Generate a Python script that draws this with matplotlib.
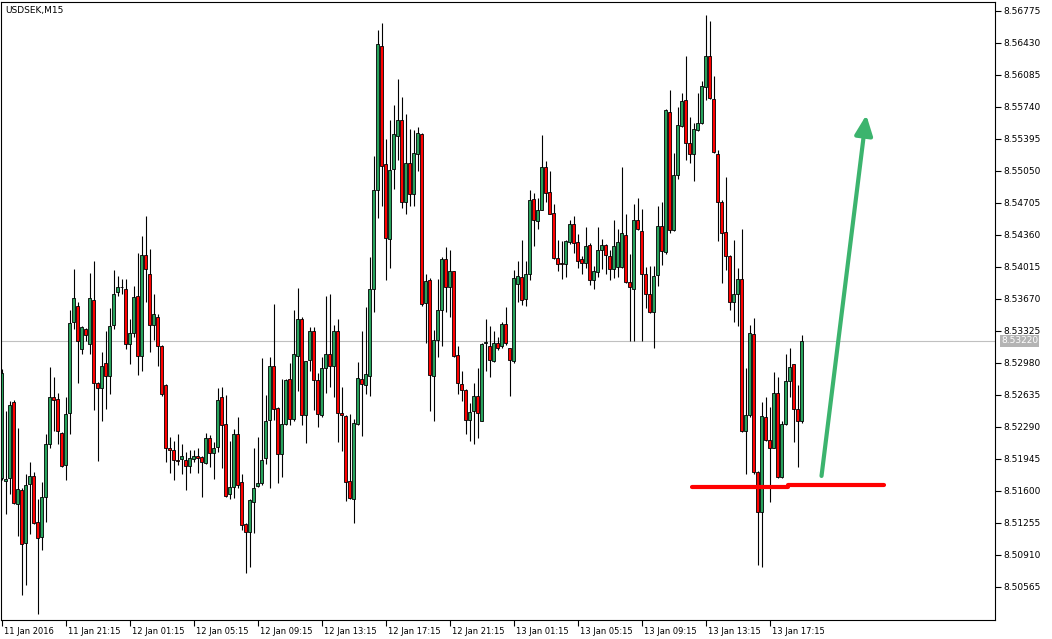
import matplotlib
matplotlib.use('Agg')
import matplotlib.pyplot as plt
import matplotlib.transforms as mtransforms
import numpy as np

# USDSEK M15 candles, 11 Jan 17:15 .. 13 Jan 19:15
opens = [8.51738, 8.51704, 8.51738, 8.52564, 8.51460, 8.51610, 8.51041, 8.51674, 8.51759, 8.51267,
         8.51109, 8.51537, 8.52110, 8.52615, 8.52594, 8.52230, 8.51875, 8.52444, 8.53419, 8.53590,
         8.53128, 8.53351, 8.53180, 8.53663, 8.52765, 8.52713, 8.52979, 8.52838, 8.53385, 8.53744,
         8.53804, 8.53779, 8.53180, 8.53300, 8.53706, 8.53051, 8.54142, 8.53941, 8.53385, 8.53479,
         8.53158, 8.52743, 8.52059, 8.52046, 8.51939, 8.51943, 8.51931, 8.51866, 8.51943, 8.51982,
         8.51965, 8.51901, 8.52174, 8.52008, 8.52072, 8.52615, 8.52324, 8.51567, 8.51640, 8.52217,
         8.51695, 8.51246, 8.51161, 8.51481, 8.51652, 8.51682, 8.51952, 8.52367, 8.52949, 8.52500,
         8.51995, 8.52324, 8.52808, 8.52380, 8.53056, 8.53449, 8.52423, 8.53009, 8.53321, 8.52799,
         8.52414, 8.52927, 8.53073, 8.52949, 8.53321, 8.52444, 8.52410, 8.51708, 8.51516, 8.52324,
         8.52808, 8.52743, 8.52842, 8.53783, 8.54840, 8.56401, 8.55126, 8.54313, 8.55075, 8.55430,
         8.55597, 8.54711, 8.55131, 8.54797, 8.55233, 8.55451, 8.53629, 8.53877, 8.52838, 8.53223,
         8.53556, 8.54100, 8.53804, 8.53971, 8.53064, 8.52756, 8.52692, 8.52367, 8.52457, 8.52624,
         8.52358, 8.53193, 8.53158, 8.53000, 8.53193, 8.53158, 8.53398, 8.53137, 8.53000, 8.53834,
         8.53907, 8.53672, 8.53941, 8.54745, 8.54510, 8.54634, 8.55088, 8.54827, 8.54596, 8.54112,
         8.54061, 8.54048, 8.54283, 8.54476, 8.54283, 8.54100, 8.54061, 8.54249, 8.53877, 8.53963,
         8.54198, 8.54249, 8.54134, 8.53993, 8.54018, 8.54018, 8.54360, 8.53856, 8.53779, 8.54519,
         8.54403, 8.53941, 8.53719, 8.53526, 8.53928, 8.54455, 8.54177, 8.55682, 8.54412, 8.55011,
         8.55533, 8.55811, 8.55353, 8.55233, 8.55490, 8.55567, 8.55952, 8.56286, 8.55824, 8.55233,
         8.54720, 8.54390, 8.54134, 8.53633, 8.53719, 8.53886, 8.52251, 8.52414, 8.53291, 8.51802,
         8.51374, 8.52393, 8.52153, 8.52067, 8.52658, 8.51751, 8.52324, 8.52786, 8.52966, 8.52487,
         8.52358]
highs = [8.52915, 8.52465, 8.52572, 8.52581, 8.52281, 8.51631, 8.51781, 8.51909, 8.51802, 8.51511,
         8.51695, 8.52209, 8.52936, 8.52829, 8.52658, 8.52239, 8.52615, 8.53556, 8.53993, 8.53642,
         8.53377, 8.53359, 8.53950, 8.54078, 8.52773, 8.53094, 8.53321, 8.53578, 8.53984, 8.53920,
         8.53890, 8.53886, 8.53449, 8.53813, 8.54164, 8.54348, 8.54562, 8.54211, 8.53727, 8.53513,
         8.53171, 8.52752, 8.52187, 8.52144, 8.52217, 8.52102, 8.52016, 8.52046, 8.52038, 8.52059,
         8.51973, 8.52221, 8.52200, 8.52123, 8.52709, 8.52722, 8.52636, 8.52136, 8.52273, 8.52401,
         8.51781, 8.51255, 8.51511, 8.52059, 8.52187, 8.53030, 8.52636, 8.53043, 8.53620, 8.52505,
         8.52808, 8.52808, 8.52979, 8.53556, 8.53791, 8.53471, 8.53005, 8.53364, 8.53364, 8.52872,
         8.53043, 8.53706, 8.53719, 8.53394, 8.53458, 8.52722, 8.52423, 8.52431, 8.52380, 8.52992,
         8.53321, 8.53586, 8.54121, 8.55212, 8.56572, 8.56649, 8.55396, 8.55597, 8.55759, 8.56037,
         8.55853, 8.55661, 8.55503, 8.55490, 8.55524, 8.55460, 8.53941, 8.53898, 8.53334, 8.53886,
         8.54121, 8.54232, 8.54198, 8.53975, 8.53158, 8.52893, 8.52701, 8.52551, 8.52765, 8.52923,
         8.53193, 8.53458, 8.53377, 8.53321, 8.53257, 8.53419, 8.53586, 8.53146, 8.53984, 8.54078,
         8.54305, 8.54078, 8.54840, 8.54818, 8.54754, 8.55439, 8.55160, 8.55054, 8.54698, 8.54305,
         8.54292, 8.54305, 8.54519, 8.54562, 8.54369, 8.54134, 8.54442, 8.54275, 8.54027, 8.54442,
         8.54313, 8.54262, 8.54198, 8.54519, 8.54420, 8.55096, 8.54591, 8.54155, 8.54690, 8.54754,
         8.54639, 8.54018, 8.54027, 8.54027, 8.54668, 8.54711, 8.55717, 8.55918, 8.55246, 8.55738,
         8.55896, 8.56286, 8.55631, 8.55567, 8.55888, 8.56016, 8.56730, 8.56671, 8.56072, 8.55276,
         8.54733, 8.54989, 8.54147, 8.54305, 8.54005, 8.54425, 8.52923, 8.53394, 8.53462, 8.51811,
         8.52564, 8.52615, 8.52508, 8.52880, 8.52829, 8.52350, 8.53073, 8.53137, 8.52974, 8.52743,
         8.53278]
lows = [8.51717, 8.51353, 8.51567, 8.51460, 8.51118, 8.50476, 8.50583, 8.51139, 8.51246, 8.50271,
        8.50968, 8.51267, 8.52059, 8.52251, 8.52102, 8.51854, 8.51717, 8.52209, 8.53342, 8.52765,
        8.53073, 8.53214, 8.53073, 8.52478, 8.51922, 8.52358, 8.52487, 8.52649, 8.53342, 8.53706,
        8.53727, 8.53128, 8.52966, 8.53257, 8.52850, 8.52893, 8.53633, 8.53094, 8.53223, 8.52949,
        8.52624, 8.51909, 8.51789, 8.51717, 8.51875, 8.51781, 8.51610, 8.51794, 8.51909, 8.51794,
        8.51537, 8.51888, 8.51854, 8.51725, 8.52016, 8.51845, 8.51537, 8.51511, 8.51524, 8.51631,
        8.51182, 8.50711, 8.50776, 8.51152, 8.51640, 8.51665, 8.51896, 8.51631, 8.52367, 8.51682,
        8.51751, 8.52316, 8.52316, 8.52358, 8.52679, 8.52316, 8.52115, 8.52893, 8.52478, 8.52286,
        8.52401, 8.52658, 8.52722, 8.52615, 8.52123, 8.52029, 8.51490, 8.51511, 8.51259, 8.52307,
        8.52196, 8.52645, 8.52624, 8.53526, 8.54540, 8.54677, 8.53877, 8.54005, 8.54861, 8.55169,
        8.54647, 8.54591, 8.54668, 8.54668, 8.55054, 8.53599, 8.53193, 8.52457, 8.52358, 8.53043,
        8.53158, 8.53535, 8.53471, 8.53043, 8.52645, 8.52572, 8.52209, 8.52136, 8.52110, 8.52174,
        8.52350, 8.52893, 8.52829, 8.52987, 8.53120, 8.53137, 8.53171, 8.52628, 8.52979, 8.53642,
        8.53608, 8.53599, 8.53877, 8.54241, 8.54425, 8.54626, 8.54711, 8.54583, 8.54104, 8.53971,
        8.53890, 8.53911, 8.54262, 8.54164, 8.54005, 8.53941, 8.54005, 8.53826, 8.53783, 8.53911,
        8.53993, 8.53941, 8.53877, 8.53898, 8.53911, 8.54005, 8.53847, 8.53214, 8.53214, 8.54412,
        8.53214, 8.53578, 8.53522, 8.53141, 8.53813, 8.54035, 8.54155, 8.54378, 8.54403, 8.54968,
        8.55524, 8.55173, 8.55131, 8.54947, 8.55481, 8.55558, 8.55811, 8.55824, 8.55246, 8.54292,
        8.53847, 8.53984, 8.53548, 8.53419, 8.53377, 8.52239, 8.51781, 8.52401, 8.51781, 8.50797,
        8.50784, 8.52144, 8.51481, 8.52059, 8.51738, 8.51738, 8.52307, 8.52615, 8.52123, 8.51854,
        8.52337]
closes = [8.52872, 8.51730, 8.52529, 8.51469, 8.51623, 8.51032, 8.51665, 8.51759, 8.51255, 8.51096,
          8.51537, 8.52102, 8.52615, 8.52585, 8.52251, 8.51866, 8.52435, 8.53406, 8.53676, 8.53214,
          8.53364, 8.53278, 8.53685, 8.52765, 8.52713, 8.52949, 8.52838, 8.53377, 8.53727, 8.53796,
          8.53796, 8.53180, 8.53300, 8.53693, 8.53051, 8.54142, 8.53993, 8.53385, 8.53513, 8.53158,
          8.52645, 8.52067, 8.52038, 8.51931, 8.51922, 8.51973, 8.51866, 8.51961, 8.51973, 8.51952,
          8.51909, 8.52174, 8.52008, 8.52059, 8.52585, 8.52316, 8.51546, 8.51640, 8.52217, 8.51665,
          8.51238, 8.51161, 8.51503, 8.51631, 8.51682, 8.51931, 8.52358, 8.52949, 8.52487, 8.51995,
          8.52324, 8.52799, 8.52371, 8.53073, 8.53449, 8.52423, 8.53000, 8.53321, 8.52799, 8.52431,
          8.52927, 8.53073, 8.52944, 8.53329, 8.52444, 8.52414, 8.51695, 8.51524, 8.52337, 8.52820,
          8.52756, 8.52859, 8.53783, 8.54840, 8.56414, 8.55105, 8.54326, 8.55062, 8.55447, 8.55601,
          8.54720, 8.55139, 8.54797, 8.55246, 8.55460, 8.53620, 8.53864, 8.52850, 8.53223, 8.53548,
          8.54100, 8.53800, 8.53971, 8.53051, 8.52765, 8.52688, 8.52367, 8.52452, 8.52624, 8.52444,
          8.53180, 8.53205, 8.53009, 8.53193, 8.53137, 8.53398, 8.53193, 8.53009, 8.53898, 8.53920,
          8.53663, 8.53941, 8.54741, 8.54519, 8.54634, 8.55088, 8.54810, 8.54591, 8.54112, 8.54048,
          8.54048, 8.54292, 8.54476, 8.54271, 8.54082, 8.54057, 8.54241, 8.53877, 8.53971, 8.54198,
          8.54249, 8.54142, 8.53997, 8.54241, 8.54283, 8.54378, 8.53856, 8.53800, 8.54519, 8.54425,
          8.53941, 8.53719, 8.53526, 8.53920, 8.54455, 8.54185, 8.55704, 8.54412, 8.55011, 8.55545,
          8.55802, 8.55353, 8.55233, 8.55503, 8.55567, 8.55965, 8.56286, 8.55836, 8.55255, 8.54711,
          8.54378, 8.54134, 8.53633, 8.53719, 8.53886, 8.52251, 8.52414, 8.53300, 8.51802, 8.51374,
          8.52410, 8.52153, 8.52067, 8.52658, 8.51751, 8.52324, 8.52786, 8.52936, 8.52487, 8.52350,
          8.53220]

time_ticks = [0, 16, 32, 48, 64, 80, 96, 112, 128, 144, 160, 176, 192]
time_labels = ['11 Jan 2016', '11 Jan 21:15', '12 Jan 01:15', '12 Jan 05:15', '12 Jan 09:15',
               '12 Jan 13:15', '12 Jan 17:15', '12 Jan 21:15', '13 Jan 01:15', '13 Jan 05:15',
               '13 Jan 09:15', '13 Jan 13:15', '13 Jan 17:15']
price_ticks = [8.56775, 8.56430, 8.56085, 8.55740, 8.55395, 8.55050, 8.54705, 8.54360, 8.54015,
               8.53670, 8.53325, 8.52980, 8.52635, 8.52290, 8.51945, 8.51600, 8.51255, 8.50910,
               8.50565]
last_price = 8.53220

# hand drawn objects on the chart
support_left = (172.6, 196.6, 8.51645)
support_right = (196.6, 220.4, 8.51665)
arrow_from = (204.9, 8.51762)
arrow_to = (216.1, 8.55654)

bull = '#27a35c'
bear = '#ff0000'

plt.rcParams['font.family'] = ['DejaVu Sans']
fig = plt.figure(figsize=(10.52, 6.39), dpi=100)
ax = fig.add_axes([0.5 / 1052, 19 / 639, 995 / 1052, 618 / 639])

o = np.array(opens)
h = np.array(highs)
l = np.array(lows)
c = np.array(closes)
x = np.arange(len(o))

ax.axhline(last_price, color='#c0c0c0', lw=0.8, zorder=0)
ax.vlines(x, l, h, color='black', lw=0.8, zorder=2)
up = c >= o
body = np.maximum(np.abs(c - o), 0.00002)
ax.bar(x, body, bottom=np.minimum(o, c), width=0.75,
       color=np.where(up, bull, bear), edgecolor='black', linewidth=0.6, zorder=3)

ax.plot(support_left[:2], [support_left[2]] * 2, color='#ff0000', lw=3, solid_capstyle='round', zorder=4)
ax.plot(support_right[:2], [support_right[2]] * 2, color='#ff0000', lw=3, solid_capstyle='round', zorder=4)
ax.annotate('', xy=arrow_to, xytext=arrow_from,
            arrowprops=dict(arrowstyle='-|>,head_length=1.0,head_width=0.45', color='#3cb46e',
                            lw=3, mutation_scale=12, shrinkA=0, shrinkB=0), zorder=4)

ax.set_xlim(-0.375, 248.4)
ax.set_ylim(8.50209, 8.56872)

ax.set_xticks(time_ticks)
ax.set_xticklabels(time_labels)
ax.tick_params(axis='x', direction='out', length=4, width=0.8, labelsize=6, pad=1)
offset = mtransforms.ScaledTranslation(2 / 100, 0, fig.dpi_scale_trans)
for lbl in ax.get_xticklabels():
    lbl.set_horizontalalignment('left')
    lbl.set_transform(lbl.get_transform() + offset)

ax.yaxis.tick_right()
ax.set_yticks(price_ticks)
ax.set_yticklabels(['%.5f' % p for p in price_ticks])
ax.tick_params(axis='y', direction='out', length=4, width=0.8, labelsize=6.5, pad=1.5)

for s in ax.spines.values():
    s.set_linewidth(0.8)
    s.set_color('black')

ax.text(0.005, 0.993, 'USDSEK,M15', transform=ax.transAxes, ha='left', va='top', fontsize=6.5)
ax.text(1.0055, last_price, '%.5f' % last_price, transform=ax.get_yaxis_transform(),
        ha='left', va='center', fontsize=6.5, color='white',
        bbox=dict(boxstyle='square,pad=0.15', fc='#b4b4b4', ec='none'))

fig.savefig('out.png', dpi=100)
